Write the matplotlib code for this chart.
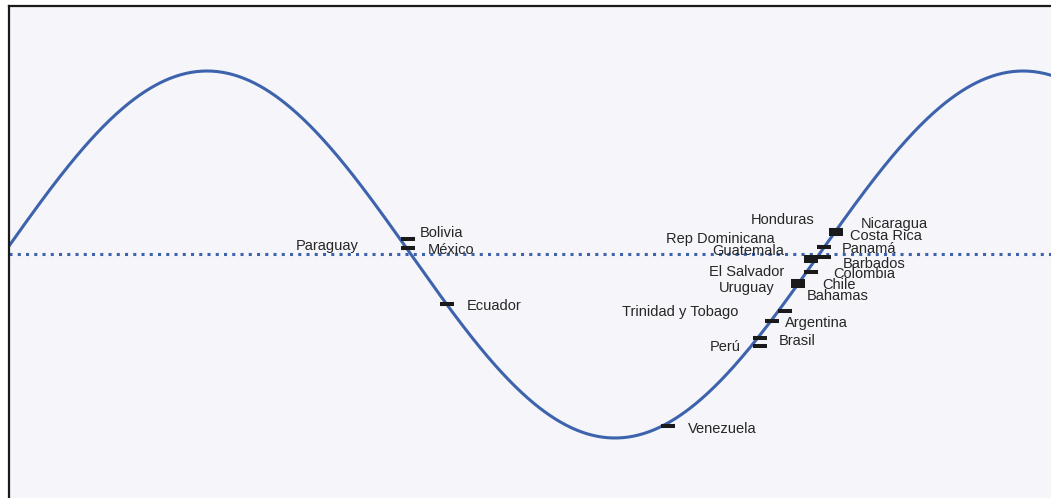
import numpy as np
import matplotlib
matplotlib.use("Agg")
import matplotlib.pyplot as plt

# ---- data ----
countries = ["Bolivia", "México", "Paraguay", "Ecuador", "Venezuela",
             "Honduras", "Nicaragua", "Costa Rica", "Rep Dominicana", "Panamá",
             "Guatemala", "Barbados", "El Salvador", "Colombia", "Chile",
             "Uruguay", "Bahamas", "Trinidad y Tobago", "Argentina", "Brasil", "Perú"]
# phase position along the cycle (degrees)
phase = [178.7, 178.7, 178.7, 195.9, 293.4,
         367.5, 367.5, 367.5, 362.2, 362.2,
         356.25, 362.0, 356.25, 356.25, 350.7,
         350.7, 350.7, 345.0, 339.3, 333.75, 333.75]
# cycle value
value = [0.085, 0.034, 0.034, -0.270, -0.933,
         0.134, 0.136, 0.112, 0.043, 0.043,
         -0.016, -0.011, -0.035, -0.094, -0.147,
         -0.169, -0.160, -0.306, -0.362, -0.453, -0.499]

# ---- label layout (offset pixels, alignment) ----
label_dx = [12, 20, -49, 20, 20,
            -21, 25, 14, -49, 18,
            -26.5, 19.5, -26.5, 22.5, 24,
            -23, 9, -47, 13, 19.5, -18.5]
label_dy = [6, -2, 2, -2, -3,
            10, 5.5, -2, 7.7, -2.3,
            6.5, -7.5, -11, -2.3, -3.5,
            -2.5, -12, -1, -2, -3.3, -1]

W, H, DPI = 1051, 498, 100
fig = plt.figure(figsize=(W / DPI, H / DPI), dpi=DPI, facecolor="white")
left_px, top_px = 9, 6
ax = fig.add_axes([left_px / W, 0, 1 - left_px / W, 1 - top_px / H])
ax.set_facecolor("#f5f5fa")

blue = "#3d63ad"
px_per_deg = 816 / 360.0
x0 = 90 - (207 - left_px) / px_per_deg
x1 = 90 + (W - 207) / px_per_deg
amp_px = 183.5
mid_px = 254.5
ax.set_xlim(x0, x1)
ax.set_ylim(-(H - mid_px) / amp_px, (mid_px - top_px) / amp_px)

xs = np.linspace(x0, x1, 800)
ax.plot(xs, np.sin(np.radians(xs)), color=blue, lw=2.2, zorder=2)
ax.axhline(0, color=blue, lw=2.2, ls=(0, (1, 1.7)), zorder=1)

ax.plot(phase, value, ls="none", marker="_", ms=10, mew=2.9,
        color="#1a1a1a", zorder=3)

for name, px, vy, dx, dy in zip(countries, phase, value, label_dx, label_dy):
    ax.annotate(name, (px, vy), xytext=(dx, dy), textcoords="offset pixels",
                ha="left" if dx > 0 else "right", va="center",
                fontsize=10.5, family="Liberation Sans", color="#262626",
                zorder=4)

for s in ["right", "bottom"]:
    ax.spines[s].set_visible(False)
for s in ["left", "top"]:
    ax.spines[s].set_linewidth(1.6)
    ax.spines[s].set_color("#1a1a1a")
ax.set_xticks([])
ax.set_yticks([])

fig.savefig("out.png", dpi=DPI, facecolor="white")
